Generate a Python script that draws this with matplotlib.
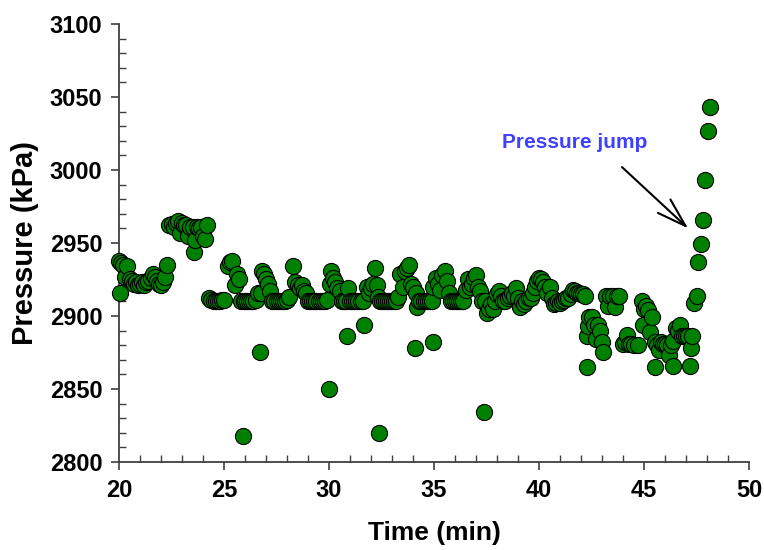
import matplotlib
matplotlib.use("Agg")
import matplotlib.pyplot as plt
from matplotlib.ticker import MultipleLocator

plt.rcParams['font.family'] = ['Liberation Sans', 'DejaVu Sans']

# Time (min) and pressure (kPa) readings
time_min = [
    20.0, 20.05, 20.1, 20.2, 20.3, 20.4, 20.5, 20.6, 20.7, 20.8, 20.9, 21.0,
    21.1, 21.2, 21.3, 21.4, 21.5, 21.6, 21.7, 21.8, 21.9, 22.0, 22.1, 22.2, 22.3,
    22.4, 22.5, 22.6, 22.7, 22.8, 22.9, 23.0, 23.1, 23.2, 23.3, 23.4, 23.5,
    23.55, 23.6, 23.7, 23.8, 23.9, 24.0, 24.1, 24.2,
    24.3, 24.4, 24.5, 24.6, 24.7, 24.8, 24.9, 25.0, 25.2, 25.3, 25.4, 25.5,
    25.6, 25.7, 25.8, 25.9, 25.95, 26.0, 26.1, 26.2, 26.3, 26.4, 26.5, 26.6,
    26.7, 26.75, 26.8, 26.9, 27.0, 27.1, 27.2, 27.3, 27.4, 27.5, 27.6, 27.7,
    27.8, 27.9, 28.0, 28.1, 28.3, 28.4, 28.5, 28.6, 28.7, 28.8, 28.9, 29.0,
    29.1, 29.2, 29.3, 29.4, 29.5, 29.6, 29.7, 29.8, 29.9, 30.0, 30.05, 30.1,
    30.2, 30.3, 30.4, 30.5, 30.6, 30.7, 30.8, 30.85, 30.9, 31.0, 31.1, 31.2,
    31.3, 31.4, 31.5, 31.6, 31.65, 31.8, 31.9, 32.0, 32.1, 32.2, 32.3, 32.35,
    32.4, 32.45, 32.5, 32.6, 32.7, 32.8, 32.9, 33.0, 33.1, 33.2, 33.3, 33.4,
    33.5, 33.6, 33.7, 33.8, 33.9, 34.0, 34.1, 34.15, 34.2, 34.3, 34.4, 34.5,
    34.6, 34.7, 34.8, 34.9, 34.95, 34.97, 35.1, 35.2, 35.3, 35.4, 35.5, 35.6,
    35.7, 35.8, 35.9, 36.0, 36.1, 36.2, 36.3, 36.4, 36.5, 36.6, 36.7, 36.8,
    36.9, 37.0, 37.1, 37.2, 37.3, 37.4, 37.45, 37.5, 37.6, 37.7, 37.8, 37.9,
    38.0, 38.1, 38.2, 38.3, 38.4, 38.5, 38.6, 38.7, 38.8, 38.9, 39.0, 39.1,
    39.2, 39.3, 39.4, 39.5, 39.6, 39.7, 39.8, 39.9, 40.0, 40.1, 40.2, 40.3,
    40.4, 40.5, 40.6, 40.7, 40.8, 40.9, 41.0, 41.1, 41.2, 41.3, 41.4, 41.5,
    41.6, 41.7, 41.8, 41.9, 42.0, 42.1, 42.2, 42.3, 42.3, 42.35, 42.4, 42.5,
    42.6, 42.7, 42.8, 42.9, 43.0, 43.05, 43.2, 43.3, 43.4, 43.5, 43.6, 43.7,
    43.8, 44.0, 44.1, 44.2, 44.3, 44.4, 44.5, 44.7, 44.9, 44.95, 45.0, 45.1,
    45.2, 45.3, 45.4, 45.5, 45.5, 45.6, 45.7, 45.8, 45.9, 46.0, 46.1, 46.2,
    46.3, 46.4, 46.4, 46.5, 46.6, 46.7, 46.8, 46.9, 47.0, 47.1, 47.2, 47.25,
    47.3, 47.4, 47.5, 47.57, 47.7, 47.8, 47.9, 48.05, 48.14,
]
pressure_kpa = [
    2938, 2916, 2936, 2935, 2927, 2934, 2925, 2924, 2922, 2923, 2921, 2922,
    2923, 2921, 2923, 2924, 2926, 2929, 2927, 2924, 2922, 2921, 2923, 2927, 2935,
    2962, 2963, 2961, 2964, 2965, 2957, 2964, 2962, 2962, 2955, 2961, 2961,
    2944, 2952, 2961, 2960, 2961, 2955, 2953, 2962,
    2912, 2911, 2910, 2910, 2910, 2910, 2911, 2911, 2934, 2937, 2938, 2921,
    2929, 2925, 2910, 2818, 2910, 2910, 2910, 2910, 2910, 2910, 2911, 2916,
    2875, 2916, 2931, 2929, 2925, 2922, 2917, 2910, 2910, 2910, 2910, 2910,
    2910, 2910, 2911, 2913, 2934, 2923, 2921, 2919, 2921, 2917, 2916, 2910,
    2910, 2910, 2910, 2910, 2910, 2910, 2910, 2910, 2911, 2850, 2922, 2931,
    2926, 2923, 2919, 2917, 2910, 2910, 2910, 2886, 2919, 2910, 2910, 2910,
    2910, 2910, 2910, 2910, 2894, 2920, 2916, 2919, 2922, 2933, 2921, 2913,
    2820, 2910, 2910, 2910, 2910, 2910, 2910, 2910, 2910, 2910, 2913, 2929,
    2920, 2931, 2933, 2935, 2922, 2920, 2878, 2916, 2906, 2910, 2910, 2910,
    2910, 2910, 2910, 2910, 2882, 2920, 2926, 2922, 2918, 2928, 2931, 2924,
    2916, 2910, 2910, 2910, 2910, 2910, 2910, 2910, 2918, 2925, 2920, 2922,
    2926, 2928, 2920, 2917, 2910, 2834, 2910, 2902, 2905, 2908, 2905, 2910,
    2915, 2917, 2914, 2910, 2910, 2912, 2914, 2916, 2914, 2919, 2912, 2906,
    2910, 2908, 2910, 2912, 2912, 2916, 2920, 2924, 2926, 2925, 2923, 2920,
    2916, 2920, 2912, 2908, 2909, 2910, 2909, 2910, 2911, 2912, 2912, 2915,
    2918, 2917, 2916, 2916, 2915, 2915, 2914, 2865, 2886, 2893, 2899, 2899,
    2894, 2884, 2894, 2890, 2882, 2875, 2914, 2907, 2914, 2914, 2906, 2914,
    2914, 2881, 2882, 2887, 2881, 2881, 2880, 2880, 2910, 2894, 2905, 2907,
    2904, 2889, 2899, 2882, 2865, 2880, 2877, 2882, 2881, 2881, 2880, 2873,
    2880, 2866, 2883, 2892, 2890, 2894, 2886, 2886, 2886, 2886, 2866, 2878,
    2886, 2909, 2914, 2937, 2949, 2966, 2993, 3027, 3043,
]

x_ticks = [20, 25, 30, 35, 40, 45, 50]
y_ticks = [2800, 2850, 2900, 2950, 3000, 3050, 3100]

fig = plt.figure(figsize=(7.64, 5.50), dpi=100)
ax = fig.add_axes([0.1558, 0.16, 0.8246, 0.7964])

ax.scatter(time_min, pressure_kpa, s=135, c='#008000', edgecolors='black',
           linewidths=0.8, zorder=3, clip_on=False)

ax.set_xlim(20, 50)
ax.set_ylim(2800, 3100)
ax.set_xticks(x_ticks)
ax.set_yticks(y_ticks)
ax.xaxis.set_minor_locator(MultipleLocator(1))
ax.yaxis.set_minor_locator(MultipleLocator(10))

for side in ('top', 'right'):
    ax.spines[side].set_visible(False)
for side in ('left', 'bottom'):
    ax.spines[side].set_color('#404040')
    ax.spines[side].set_linewidth(1.3)

ax.tick_params(which='major', direction='out', length=6, width=1.2,
               color='#404040', labelsize=17, pad=6)
ax.tick_params(which='minor', direction='in', length=5, width=1.0,
               color='#404040')
for lbl in ax.get_xticklabels() + ax.get_yticklabels():
    lbl.set_fontweight('bold')

ax.set_xlabel('Time (min)', fontsize=19, fontweight='bold', labelpad=14)
ax.set_ylabel('Pressure (kPa)', fontsize=21, fontweight='bold', labelpad=8)

# Label and pointer for the sudden pressure rise
ax.text(41.7, 3019, 'Pressure jump', ha='center', va='center', fontsize=15,
        fontweight='bold', color='#4040ff')
ax.annotate('', xy=(47.1, 2960), xytext=(43.95, 3002),
            arrowprops=dict(arrowstyle='->,head_length=0.7,head_width=0.22',
                            color='black', lw=1.5, mutation_scale=30,
                            shrinkA=0, shrinkB=0))

fig.savefig('out.png', dpi=100)
